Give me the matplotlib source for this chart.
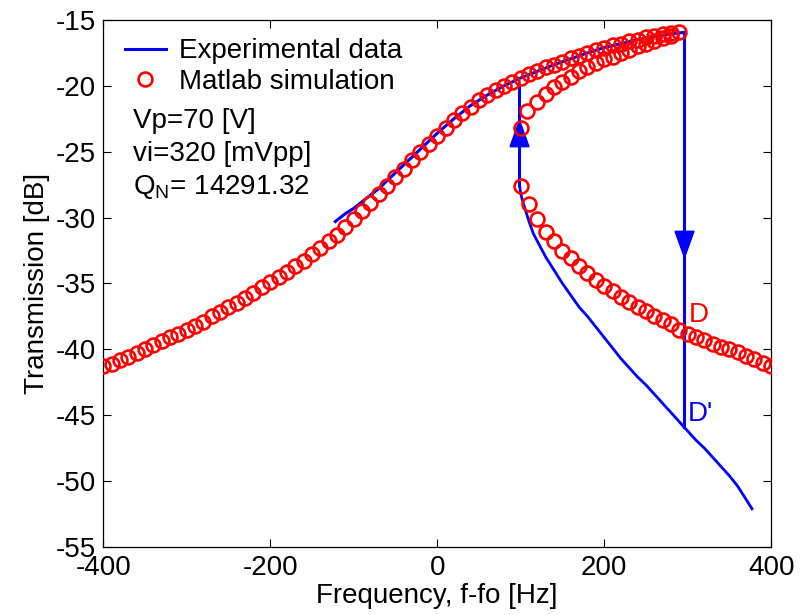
import numpy as np
import matplotlib
matplotlib.use("Agg")
import matplotlib.pyplot as plt

plt.rcParams['font.family'] = ['Liberation Sans', 'DejaVu Sans']
plt.rcParams['mathtext.fontset'] = 'custom'
plt.rcParams['mathtext.rm'] = 'Liberation Sans'
plt.rcParams['axes.unicode_minus'] = False

# --- Matlab simulation: stable upper branch
sim_up_f = [-400, -390, -380, -370, -360, -350, -340, -330, -320, -310,
            -300, -290, -280, -270, -260, -250, -240, -230, -220, -210,
            -200, -190, -180, -170, -160, -150, -140, -130, -120, -110,
            -100, -90, -80, -70, -60, -50, -40, -30, -20, -10,
            0, 10, 20, 30, 40, 50, 60, 70, 80, 90,
            100, 110, 120, 130, 140, 150, 160, 170, 180, 190,
            200, 210, 220, 230, 240, 250, 260, 270, 280, 290]
sim_up_db = [-41.3, -41.1, -40.8, -40.6, -40.3, -40.0, -39.7, -39.4, -39.1, -38.8,
             -38.5, -38.2, -37.9, -37.5, -37.2, -36.8, -36.5, -36.1, -35.7, -35.3,
             -34.9, -34.5, -34.1, -33.7, -33.3, -32.8, -32.3, -31.8, -31.3, -30.7,
             -30.1, -29.5, -28.9, -28.2, -27.6, -26.9, -26.3, -25.6, -25.0, -24.4,
             -23.8, -23.2, -22.6, -22.1, -21.6, -21.1, -20.7, -20.3, -20.0, -19.7,
             -19.4, -19.1, -18.9, -18.6, -18.4, -18.2, -17.9, -17.7, -17.5, -17.3,
             -17.1, -16.9, -16.8, -16.6, -16.5, -16.3, -16.2, -16.1, -16.0, -15.9]

# --- Matlab simulation: unstable middle branch
sim_mid_f = [280, 270, 260, 250, 240, 230, 220, 210, 200, 190,
             180, 170, 160, 150, 140, 130, 120, 108, 100]
sim_mid_db = [-16.2, -16.4, -16.6, -16.8, -17.0, -17.3, -17.5, -17.8, -18.0, -18.3,
              -18.6, -18.9, -19.3, -19.7, -20.1, -20.6, -21.2, -21.9, -23.2]

# --- Matlab simulation: stable lower branch
sim_low_f = [100, 110, 120, 130, 140, 150, 160, 170, 180, 190,
             200, 210, 220, 230, 240, 250, 260, 270, 280, 290,
             300, 310, 320, 330, 340, 350, 360, 370, 380, 390, 400]
sim_low_db = [-27.6, -29.0, -30.1, -31.1, -31.8, -32.5, -33.1, -33.7, -34.2, -34.7,
              -35.2, -35.6, -36.0, -36.4, -36.8, -37.1, -37.5, -37.8, -38.1, -38.5,
              -38.8, -39.1, -39.3, -39.6, -39.8, -40.0, -40.2, -40.5, -40.7, -41.0, -41.3]

# --- Experimental data: upward sweep (upper branch)
exp_up_f = [-122, -110, -100, -90, -80, -70, -60, -50, -40, -30, -20, -10,
            0, 20, 40, 60, 80, 100, 120, 140, 160, 180, 200, 220, 240, 260, 280, 295]
exp_up_db = [-30.3, -29.7, -29.3, -28.8, -28.3, -27.8, -27.2, -26.6, -26.0, -25.4, -24.8, -24.2,
             -23.6, -22.5, -21.5, -20.7, -20.0, -19.4, -18.9, -18.4, -17.95, -17.5, -17.1, -16.8,
             -16.5, -16.25, -16.05, -15.95]

# --- Experimental data: lower branch
exp_low_f = [98.5, 100, 103, 106, 110, 115, 120, 130, 140, 150, 160, 170, 180, 190,
             200, 210, 220, 230, 240, 250, 260, 270, 280, 290, 295.5,
             300, 310, 320, 330, 340, 350, 360, 370, 377]
exp_low_db = [-27.5, -28.2, -28.9, -29.5, -30.3, -31.2, -31.8, -33.0, -34.0, -35.0, -35.9,
              -36.8, -37.5, -38.3, -39.1, -39.9, -40.7, -41.4, -42.1, -42.7, -43.4, -44.1,
              -44.8, -45.5, -45.9, -46.2, -46.9, -47.5, -48.2, -48.9, -49.6, -50.4, -51.4, -52.1]

# jumps
jump_down_f = 295
jump_down_db = [-15.95, -45.9]
jump_up_f = 98.5
jump_up_db = [-27.5, -20.0]

blue = '#0000ff'
red = '#ff0000'

fig = plt.figure(figsize=(8, 6.15), dpi=100)
ax = fig.add_axes([0.129, 0.1106, 0.835, 0.857])

ax.plot(exp_up_f, exp_up_db, color=blue, lw=2.2, label='Experimental data', zorder=2)
ax.plot([jump_down_f, jump_down_f], jump_down_db, color=blue, lw=2.2, zorder=2)
ax.plot(exp_low_f, exp_low_db, color=blue, lw=2.0, zorder=2)
ax.plot([jump_up_f, jump_up_f], jump_up_db, color=blue, lw=2.2, zorder=2)

# arrowheads
tri_up = [(-0.36, -0.5), (0.36, -0.5), (0, 0.5), (-0.36, -0.5)]
tri_dn = [(-0.36, 0.5), (0.36, 0.5), (0, -0.5), (-0.36, 0.5)]
ax.plot([jump_up_f], [-23.6], marker=tri_up, ms=19, color=blue, mec=blue, ls='none', zorder=2)
ax.plot([jump_down_f], [-32.0], marker=tri_dn, ms=19, color=blue, mec=blue, ls='none', zorder=2)

sim_kw = dict(ls='none', marker='o', ms=10, mfc='none', mec=red, mew=1.9, zorder=3)
ax.plot(sim_up_f, sim_up_db, label='Matlab simulation', **sim_kw)
ax.plot(sim_mid_f, sim_mid_db, **sim_kw)
ax.plot(sim_low_f, sim_low_db, **sim_kw)

fs = 20
ax.text(301, -37.4, 'D', color=red, fontsize=fs, va='center', ha='left')
ax.text(300, -44.9, "D'", color=blue, fontsize=fs, va='center', ha='left')

ax.text(-364, -22.7, 'Vp=70 [V]', fontsize=fs, va='center', ha='left')
ax.text(-364, -25.2, 'vi=320 [mVpp]', fontsize=fs, va='center', ha='left')
ax.text(-364, -27.7, r'Q$_\mathregular{N}$= 14291.32', fontsize=fs, va='center', ha='left')

ax.set_xlim(-400, 400)
ax.set_ylim(-55, -15)
ax.set_xticks([-400, -200, 0, 200, 400])
ax.set_yticks(np.arange(-55, -14, 5))
ax.tick_params(direction='in', top=True, right=True, length=6, width=0.8,
               labelsize=fs)
ax.tick_params(axis='x', pad=6)
ax.tick_params(axis='y', pad=5)
for s in ax.spines.values():
    s.set_linewidth(0.9)

ax.set_xlabel('Frequency, f-fo [Hz]', fontsize=fs, labelpad=1)
ax.set_ylabel('Transmission [dB]', fontsize=fs, labelpad=4)

ax.legend(loc='upper left', bbox_to_anchor=(0.032, 0.965), frameon=False, fontsize=fs,
          handlelength=1.5, handletextpad=0.45, labelspacing=0.15, borderpad=0,
          borderaxespad=0, numpoints=1)

fig.savefig('out.png', dpi=100)
